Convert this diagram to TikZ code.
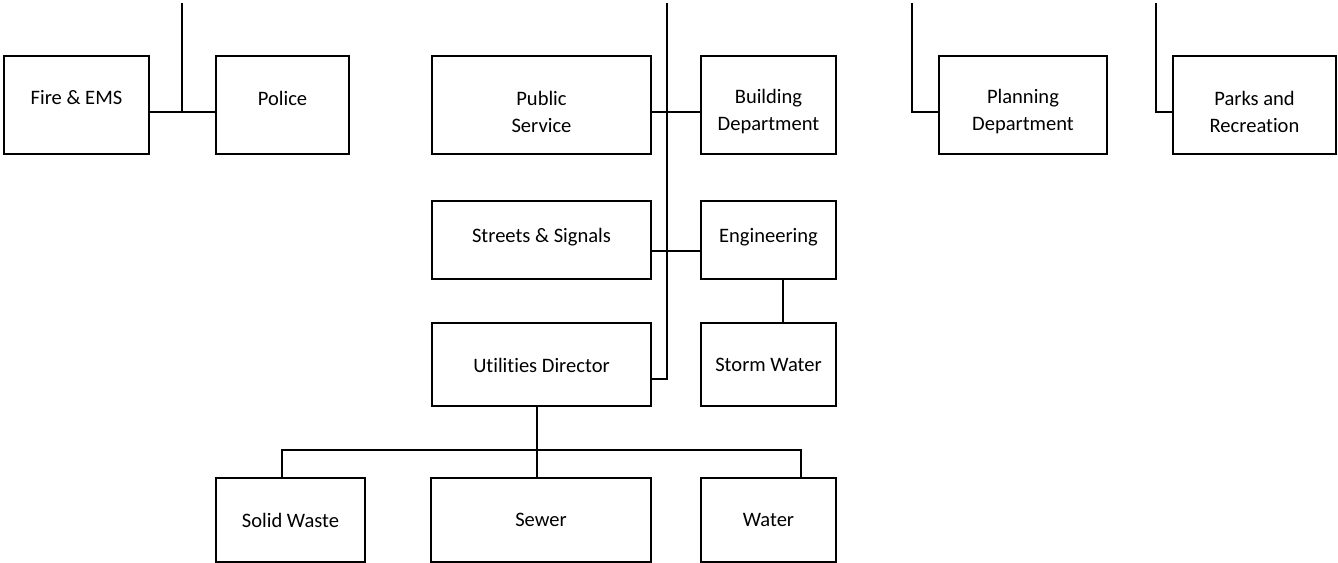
\documentclass[tikz,border=0pt]{standalone}
\usepackage{fontspec}
\setmainfont{Carlito}[Ligatures={NoCommon}]
\begin{document}
\begin{tikzpicture}[x=0.75pt,y=-0.75pt,line width=1.75pt,
  box/.style 2 args={draw,inner sep=0,outer sep=0,minimum width=#1*0.75pt,minimum height=#2*0.75pt},
  lbl/.style={align=center,font=\fontsize{15.4}{20.25}\selectfont}]
\useasboundingbox (0,0) rectangle (1338,563);
% top row
\node[box={145}{98}] (fire) at (76.5,105) {};
\node[box={133}{98}] (police) at (282.5,105) {};
\node[box={219}{98}] (pubserv) at (541.5,105) {};
\node[box={135}{98}] (building) at (768.5,105) {};
\node[box={168}{98}] (planning) at (1023,105) {};
\node[box={163}{98}] (parks) at (1254.5,105) {};
\node[lbl] (fireT) at (76.5,98) {Fire \& EMS};
\node[lbl] (policeT) at (282.5,98) {Police};
\node[lbl] (pubservT) at (541.5,112) {Public\\Service};
\node[lbl] (buildingT) at (768.5,112) {Building\\Department};
\node[lbl] (planningT) at (1023,112) {Planning\\Department};
\node[lbl] (parksT) at (1254.5,112) {Parks and\\Recreation};
% middle
\node[box={219}{78}] (streets) at (541.5,240) {};
\node[box={135}{78}] (engineering) at (768.5,240) {};
\node[box={219}{83}] (utilities) at (541.5,364.5) {};
\node[box={135}{83}] (storm) at (768.5,364.5) {};
\node[lbl] (streetsT) at (541.5,237) {Streets \& Signals};
\node[lbl] (engineeringT) at (768.5,237) {Engineering};
\node[lbl] (utilitiesT) at (541.5,365) {Utilities Director};
\node[lbl] (stormT) at (768.5,365) {Storm Water};
% bottom row
\node[box={149}{84}] (solid) at (290.5,520) {};
\node[box={220}{84}] (sewer) at (541,520) {};
\node[box={135}{84}] (water) at (768.5,520) {};
\node[lbl] (solidT) at (290.5,520) {Solid Waste};
\node[lbl] (sewerT) at (541,520) {Sewer};
\node[lbl] (waterT) at (768.5,520) {Water};
% connectors
\coordinate (top1) at (182,3);
\coordinate (hub1) at (182,112);
\coordinate (top2) at (667,3);
\coordinate (hub2) at (667,379);
\coordinate (top3) at (912,3);
\coordinate (top4) at (1156,3);
\coordinate (bus) at (537,450);
\draw (top1) -- (hub1);
\draw (fire.east |- hub1) -- (police.west |- hub1);
\draw (top2) -- (hub2) -- (utilities.east |- hub2);
\draw (pubserv.east |- hub1) -- (building.west |- hub1);
\draw ([yshift=-8.25pt]streets.east) -- ([yshift=-8.25pt]engineering.west);
\draw ([xshift=10.9pt]engineering.south) -- ([xshift=10.9pt]storm.north);
\draw (top3) |- (planning.west |- hub1);
\draw (top4) |- (parks.west |- hub1);
\draw (utilities.south -| bus) -- (sewer.north -| bus);
\draw ([xshift=-6.4pt]solid.north) |- (bus) -| ([xshift=24.4pt]water.north);
\end{tikzpicture}
\end{document}
